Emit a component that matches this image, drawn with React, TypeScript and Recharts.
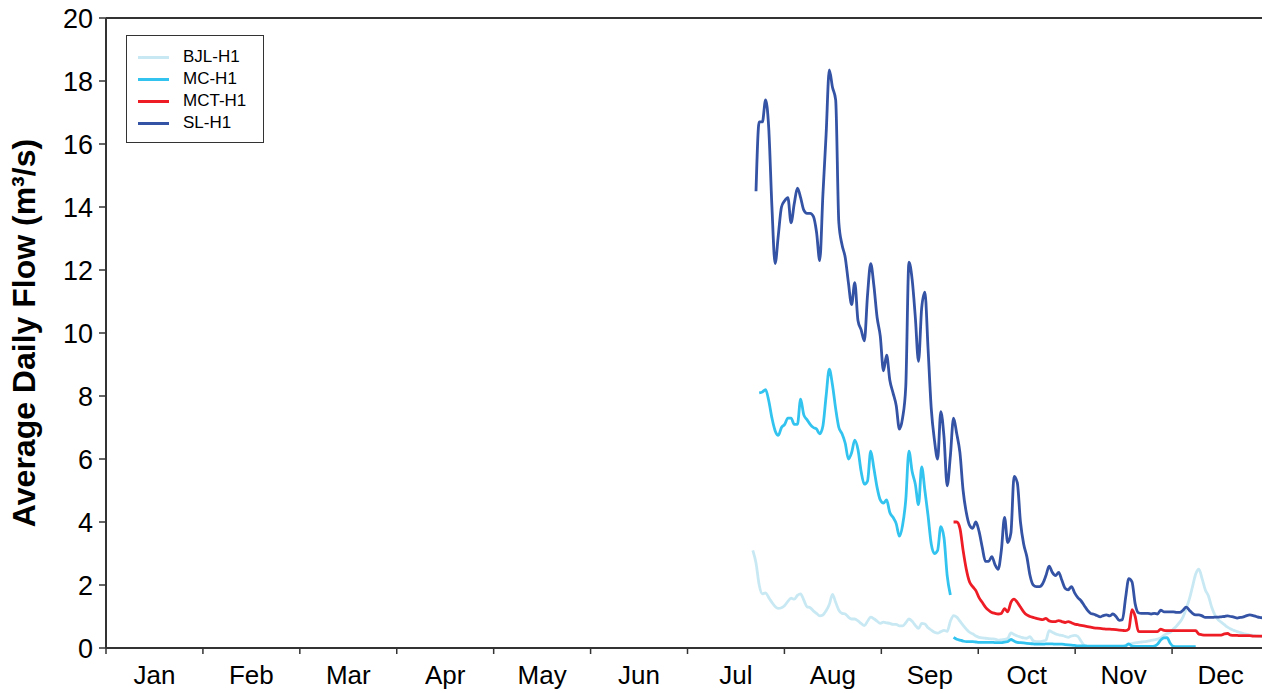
import React from 'react';
import { LineChart, Line, XAxis, YAxis, ReferenceLine, Legend } from 'recharts';

// ---------- data ----------
const MONTHS = ['Jan', 'Feb', 'Mar', 'Apr', 'May', 'Jun', 'Jul', 'Aug', 'Sep', 'Oct', 'Nov', 'Dec'];
const YEAR_DAYS = 365;
const MONTH_TICKS = [0, 1, 2, 3, 4, 5, 6, 7, 8, 9, 10, 11, 12].map((m) => (m * YEAR_DAYS) / 12);
const Y_TICKS = [0, 2, 4, 6, 8, 10, 12, 14, 16, 18, 20];

// Average daily flow (m3/s), consecutive days starting at the given day of year
const BJL_START = 203;
const BJL_FLOW = [
  3.1, 2.7, 2.0, 1.72, 1.75, 1.6, 1.45, 1.32, 1.26, 1.28, 1.35, 1.48, 1.58, 1.55, 1.67, 1.72, 1.52, 1.31, 1.28, 1.18,
  1.1, 1.02, 1.05, 1.18, 1.38, 1.7, 1.45, 1.2, 1.1, 1.08, 0.98, 0.92, 0.92, 0.86, 0.78, 0.71, 0.85, 0.98, 0.93, 0.85,
  0.78, 0.82, 0.8, 0.78, 0.75, 0.75, 0.7, 0.7, 0.8, 0.92, 0.85, 0.72, 0.62, 0.78, 0.76, 0.64, 0.57, 0.5, 0.47, 0.52,
  0.56, 0.53, 0.85, 1.03, 0.98, 0.85, 0.72, 0.6, 0.5, 0.45, 0.38, 0.34, 0.32, 0.31, 0.3, 0.29, 0.28, 0.25, 0.26, 0.27,
  0.3, 0.48, 0.43, 0.38, 0.35, 0.32, 0.31, 0.36, 0.23, 0.2, 0.2, 0.22, 0.25, 0.55, 0.5, 0.45, 0.42, 0.4, 0.37, 0.34,
  0.38, 0.4, 0.37, 0.22, 0.08, 0.03, 0.02, 0.02, 0.02, 0.02, 0.02, 0.02, 0.02, 0.03, 0.03, 0.04, 0.05, 0.08, 0.12, 0.14,
  0.16, 0.18, 0.19, 0.2, 0.22, 0.24, 0.26, 0.28, 0.32, 0.4, 0.46, 0.5, 0.6, 0.7, 0.82, 0.98, 1.25, 1.55, 1.95, 2.35,
  2.5, 2.2, 1.85, 1.65, 1.3, 1.05, 0.9, 0.82, 0.74, 0.66, 0.6, 0.56, 0.52, 0.49, 0.46, 0.43, 0.41, 0.4, 0.38, 0.37,
  0.36, 0.35, 0.35,
];

const MC_START = 205;
const MC_FLOW = [
  8.1, 8.13, 8.2, 7.85, 7.3, 6.9, 6.75, 7.0, 7.1, 7.3, 7.3, 7.1, 7.1, 7.9, 7.4, 7.25, 7.1, 7.0, 6.95, 6.8,
  7.05, 8.0, 8.85, 8.35, 7.6, 7.0, 6.8, 6.5, 6.0, 6.2, 6.6, 6.3, 5.6, 5.2, 5.3, 6.25, 5.7, 5.1, 4.7, 4.6,
  4.7, 4.3, 4.15, 3.95, 3.55, 3.9, 4.7, 6.25, 5.6, 5.2, 4.55, 5.75, 5.0, 4.2, 3.3, 3.0, 3.1, 3.85, 3.5, 2.3,
  1.68,
];
const MC_LATE_START = 266;
const MC_LATE_FLOW = [
  0.34, 0.28, 0.25, 0.22, 0.2, 0.2, 0.2, 0.19, 0.18, 0.18, 0.18, 0.18, 0.18, 0.17, 0.17, 0.17, 0.19, 0.2, 0.27, 0.22,
  0.18, 0.17, 0.16, 0.15, 0.14, 0.13, 0.12, 0.12, 0.12, 0.13, 0.13, 0.13, 0.12, 0.12, 0.12, 0.11, 0.1, 0.09, 0.08, 0.07,
  0.07, 0.07, 0.06, 0.06, 0.06, 0.06, 0.06, 0.06, 0.06, 0.06, 0.06, 0.06, 0.06, 0.06, 0.07, 0.13, 0.06, 0.05, 0.05, 0.05,
  0.05, 0.05, 0.05, 0.06, 0.12, 0.25, 0.32, 0.33, 0.15, 0.05, 0.04, 0.04, 0.04, 0.04, 0.04, 0.04, 0.04,
];

const MCT_START = 266;
const MCT_FLOW = [
  4.0, 4.0, 3.8, 3.1, 2.5, 2.1, 1.95, 1.82, 1.6, 1.45, 1.3, 1.2, 1.13, 1.1, 1.08, 1.1, 1.25, 1.15, 1.45, 1.55,
  1.45, 1.3, 1.15, 1.05, 1.0, 0.97, 0.94, 0.92, 0.9, 0.94, 0.86, 0.84, 0.84, 0.87, 0.84, 0.81, 0.84, 0.8, 0.76, 0.74,
  0.72, 0.7, 0.68, 0.66, 0.64, 0.63, 0.62, 0.61, 0.6, 0.6, 0.59, 0.58, 0.57, 0.56, 0.55, 0.6, 1.22, 1.0, 0.53, 0.52,
  0.52, 0.52, 0.52, 0.52, 0.52, 0.6, 0.56, 0.55, 0.55, 0.55, 0.55, 0.55, 0.55, 0.55, 0.55, 0.55, 0.55, 0.44, 0.42, 0.41,
  0.41, 0.41, 0.41, 0.41, 0.41, 0.45, 0.46, 0.41, 0.4, 0.4, 0.39, 0.39, 0.39, 0.39, 0.38, 0.38, 0.38, 0.38, 0.38, 0.38,
];

const SL_START = 204;
const SL_FLOW = [
  14.5, 16.7, 16.7, 17.4, 16.5, 14.0, 12.2, 13.1, 14.0, 14.2, 14.3, 13.5, 14.1, 14.6, 14.3, 13.9, 13.8, 13.8, 13.7, 13.2,
  12.3, 14.4, 16.3, 18.35, 17.8, 17.4, 13.5, 12.8, 12.4, 11.6, 10.9, 11.6, 10.4, 10.1, 9.75, 11.2, 12.2, 11.5, 10.5, 9.9,
  8.8, 9.3, 8.5, 8.1, 7.7, 6.95, 7.3, 8.3, 12.25, 11.7, 10.5, 9.1, 10.8, 11.3, 9.5, 7.6, 6.6, 6.0, 7.5, 6.7,
  5.15, 6.1, 7.3, 6.8, 6.2, 5.0, 4.3, 3.9, 3.8, 4.0, 3.7, 3.2, 2.75, 2.75, 2.9, 2.65, 2.5, 3.1, 4.15, 3.35,
  3.65, 5.45, 5.25, 4.0, 3.3, 2.9, 2.3, 2.0, 1.95, 1.95, 2.05, 2.3, 2.6, 2.4, 2.3, 2.4, 2.15, 1.9, 1.85, 1.95,
  1.75, 1.6, 1.5, 1.35, 1.2, 1.1, 1.07, 1.03, 0.99, 1.03, 1.05, 1.02, 1.08, 1.0, 0.88, 0.9, 1.6, 2.2, 2.1, 1.4,
  1.12, 1.1, 1.1, 1.1, 1.08, 1.1, 1.08, 1.2, 1.15, 1.15, 1.15, 1.15, 1.13, 1.13, 1.2, 1.3, 1.2, 1.1, 1.05, 1.05,
  1.02, 0.97, 0.97, 0.97, 0.98, 0.98, 0.99, 1.0, 1.02, 1.0, 0.98, 0.95, 0.97, 0.99, 1.03, 1.05, 1.03, 1.0, 0.97, 0.96,
  0.96, 0.96,
];

const toSeries = (start: number, values: number[]) => values.map((flow, i) => ({ day: start + i, flow }));

const bjlData = toSeries(BJL_START, BJL_FLOW);
const mcData = toSeries(MC_START, MC_FLOW);
const mcLateData = toSeries(MC_LATE_START, MC_LATE_FLOW);
const mctData = toSeries(MCT_START, MCT_FLOW);
const slData = toSeries(SL_START, SL_FLOW);

// ---------- layout ----------
const FONT = '"Liberation Sans", Arial, Helvetica, sans-serif';
const VIEW_W = 1262;
const VIEW_H = 693;
const CHART_W = 1274;
const CHART_H = VIEW_H;
const MARGIN = { top: 18, right: 5, bottom: 0, left: 8 };
const YAXIS_W = 98;
const XAXIS_H = 45;
const PLOT_W = CHART_W - MARGIN.left - MARGIN.right - YAXIS_W;
const PLOT_H = CHART_H - MARGIN.top - MARGIN.bottom - XAXIS_H;
const HALF_MONTH_PX = PLOT_W / 24;
const AXIS_COLOR = '#333333';

const COLORS = {
  bjl: '#c8e9f3',
  mc: '#33c3ef',
  mct: '#ee1c25',
  sl: '#3453a4',
};

const MonthTick = (props: any) => {
  const { x, y, payload } = props;
  const idx = Math.round((payload.value * 12) / YEAR_DAYS);
  if (idx >= 12) return null;
  return (
    <text x={x + HALF_MONTH_PX} y={y} dy="0.71em" textAnchor="middle" fontSize={26} fill="#000" fontFamily={FONT}>
      {MONTHS[idx]}
    </text>
  );
};

const YTitle = () => {
  const cx = 35;
  const cy = MARGIN.top + PLOT_H / 2;
  return (
    <text
      x={cx}
      y={cy}
      transform={`rotate(-90 ${cx} ${cy})`}
      textAnchor="middle"
      fontSize={32}
      fontWeight="bold"
      fill="#000"
      fontFamily={FONT}
    >
      Average Daily Flow (m³/s)
    </text>
  );
};

const LegendBox = (props: any) => {
  const items = (props.payload || []).filter((p: any) => p.type !== 'none');
  return (
    <div
      style={{
        border: `1px solid ${AXIS_COLOR}`,
        background: '#fff',
        width: 138,
        height: 108,
        boxSizing: 'border-box',
        paddingTop: 10,
        fontFamily: FONT,
      }}
    >
      {items.map((it: any) => (
        <div key={it.value} style={{ display: 'flex', alignItems: 'center', height: 22 }}>
          <span style={{ display: 'inline-block', marginLeft: 11, width: 31, height: 3, background: it.color }} />
          <span style={{ marginLeft: 14, fontSize: 17, color: '#000', lineHeight: '22px', whiteSpace: 'nowrap' }}>
            {it.value}
          </span>
        </div>
      ))}
    </div>
  );
};

export default function App() {
  return (
    <div
      style={{
        position: 'fixed',
        left: 0,
        top: 0,
        width: VIEW_W,
        height: VIEW_H,
        overflow: 'hidden',
        background: '#fff',
      }}
    >
      <LineChart width={CHART_W} height={CHART_H} margin={MARGIN} style={{ fontFamily: FONT }}>
        <XAxis
          dataKey="day"
          type="number"
          domain={[0, YEAR_DAYS]}
          ticks={MONTH_TICKS}
          interval={0}
          allowDataOverflow
          height={XAXIS_H}
          tickSize={6}
          tickMargin={12}
          tick={<MonthTick />}
          axisLine={{ stroke: AXIS_COLOR, strokeWidth: 2 }}
          tickLine={{ stroke: AXIS_COLOR, strokeWidth: 1.5 }}
        />
        <YAxis
          type="number"
          domain={[0, 20]}
          ticks={Y_TICKS}
          interval={0}
          width={YAXIS_W}
          tickSize={7}
          tickMargin={6}
          tick={{ fontSize: 27, fill: '#000', fontFamily: FONT }}
          axisLine={{ stroke: AXIS_COLOR, strokeWidth: 2 }}
          tickLine={{ stroke: AXIS_COLOR, strokeWidth: 1.5 }}
          label={<YTitle />}
        />
        <ReferenceLine y={20} stroke={AXIS_COLOR} strokeWidth={2} />
        <Legend
          layout="horizontal"
          verticalAlign="middle"
          align="center"
          content={<LegendBox />}
          wrapperStyle={{ left: 126, top: 35, right: 'auto', bottom: 'auto', width: 'auto', height: 'auto' }}
        />
        <Line
          data={bjlData}
          dataKey="flow"
          name="BJL-H1"
          type="monotone"
          stroke={COLORS.bjl}
          strokeWidth={2.8}
          dot={false}
          isAnimationActive={false}
        />
        <Line
          data={mcData}
          dataKey="flow"
          name="MC-H1"
          type="monotone"
          stroke={COLORS.mc}
          strokeWidth={2.8}
          dot={false}
          isAnimationActive={false}
        />
        <Line
          data={mcLateData}
          dataKey="flow"
          name="MC-H1 (late)"
          legendType="none"
          type="monotone"
          stroke={COLORS.mc}
          strokeWidth={2.8}
          dot={false}
          isAnimationActive={false}
        />
        <Line
          data={mctData}
          dataKey="flow"
          name="MCT-H1"
          type="monotone"
          stroke={COLORS.mct}
          strokeWidth={2.8}
          dot={false}
          isAnimationActive={false}
        />
        <Line
          data={slData}
          dataKey="flow"
          name="SL-H1"
          type="monotone"
          stroke={COLORS.sl}
          strokeWidth={2.8}
          dot={false}
          isAnimationActive={false}
        />
      </LineChart>
    </div>
  );
}
